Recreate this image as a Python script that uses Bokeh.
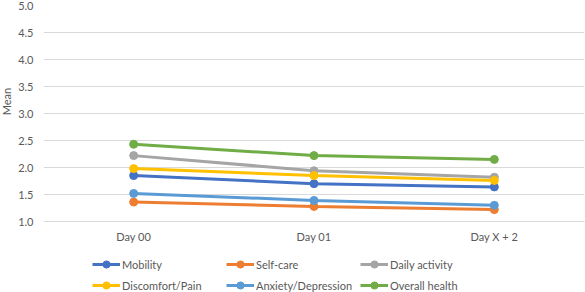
import math
from bokeh.plotting import figure
from bokeh.models import Legend, LegendItem, FactorRange, CustomJSTickFormatter, Range1d, Label
from bokeh.layouts import column, row
from bokeh.embed import file_html
from bokeh.resources import INLINE

days = ["Day 00", "Day 01", "Day X + 2"]
series_names = ["Mobility", "Self-care", "Daily activity", "Discomfort/Pain", "Anxiety/Depression", "Overall health"]
mobility = [1.85, 1.70, 1.64]
self_care = [1.36, 1.28, 1.22]
daily_activity = [2.22, 1.94, 1.82]
discomfort_pain = [1.98, 1.85, 1.76]
anxiety_depression = [1.52, 1.39, 1.30]
overall_health = [2.43, 2.22, 2.15]
y_ticks = [1.0, 1.5, 2.0, 2.5, 3.0, 3.5, 4.0, 4.5, 5.0]
y_title = "Mean"

series = [mobility, self_care, daily_activity, discomfort_pain, anxiety_depression, overall_health]
colors = ["#4472C4", "#ED7D31", "#A5A5A5", "#FFC000", "#5B9BD5", "#70AD47"]

FONT = "Lato"
FS = "11px"
TXT = "#595959"

# ---------------- y-axis title strip ----------------
mf = figure(width=12, height=250, x_range=Range1d(0, 1), y_range=Range1d(0, 1),
            output_backend="svg", toolbar_location=None,
            min_border_left=0, min_border_right=0, min_border_top=0, min_border_bottom=0)
mf.axis.visible = False
mf.grid.visible = False
mf.outline_line_color = None
mf.add_layout(Label(x=6, y=120, x_units="screen", y_units="screen", text=y_title,
                    angle=math.pi / 2, text_align="center", text_baseline="middle",
                    text_font=FONT, text_font_size=FS, text_color=TXT))

# ---------------- main chart ----------------
p = figure(frame_width=541, frame_height=216, x_range=FactorRange(*days), y_range=(1.0, 5.0),
           output_backend="svg", toolbar_location=None,
           min_border_left=31, min_border_right=1, min_border_top=5, min_border_bottom=29)
p.outline_line_color = None
p.background_fill_color = "white"
p.xgrid.grid_line_color = None
p.ygrid.grid_line_color = "#D9D9D9"
p.ygrid.grid_line_width = 1

for name, vals, c in zip(series_names, series, colors):
    p.line(days, vals, line_color=c, line_width=3)
    p.scatter(days, vals, size=8, fill_color=c, line_color=c)

p.yaxis.ticker = y_ticks
p.yaxis.formatter = CustomJSTickFormatter(code="return tick.toFixed(1);")
p.yaxis.axis_line_color = None
p.yaxis.major_tick_line_color = None
p.yaxis.major_tick_out = 0
p.yaxis.major_tick_in = 0
p.yaxis.minor_tick_line_color = None
p.yaxis.major_label_text_font = FONT
p.yaxis.major_label_text_font_size = FS
p.yaxis.major_label_text_color = TXT
p.yaxis.major_label_standoff = 10

p.xaxis.axis_line_color = "#D9D9D9"
p.xaxis.major_tick_line_color = None
p.xaxis.major_tick_out = 0
p.xaxis.major_tick_in = 0
p.xaxis.minor_tick_line_color = None
p.xaxis.major_label_text_font = FONT
p.xaxis.major_label_text_font_size = FS
p.xaxis.major_label_text_color = TXT
p.xaxis.major_label_standoff = 8

# ---------------- legend strip ----------------
lg = figure(frame_width=541, frame_height=42, x_range=FactorRange(*days), y_range=Range1d(0, 1),
            output_backend="svg", toolbar_location=None,
            min_border_left=43, min_border_right=1, min_border_top=0, min_border_bottom=0)
lg.axis.visible = False
lg.grid.visible = False
lg.outline_line_color = None

items = []
for name, vals, c in zip(series_names, series, colors):
    # same series, outside this strip's y range: only their legend glyphs show
    l = lg.line(days, vals, line_color=c, line_width=3)
    s = lg.scatter(days, vals, size=8, fill_color=c, line_color=c)
    items.append(LegendItem(label=name, renderers=[l, s]))

row_y = [19, -2]
for r in range(2):
    leg = Legend(items=items[3 * r:3 * r + 3], orientation="horizontal",
                 label_text_font=FONT, label_text_font_size=FS, label_text_color=TXT,
                 glyph_width=28, glyph_height=18, label_height=18, label_standoff=2,
                 label_width=97, spacing=7, padding=0, margin=0,
                 border_line_color=None, background_fill_alpha=0,
                 location=(49, row_y[r]))
    lg.add_layout(leg, "center")

layout = column(row(mf, p, spacing=0), lg, spacing=0)
open("out.html", "w").write(file_html(layout, INLINE))
